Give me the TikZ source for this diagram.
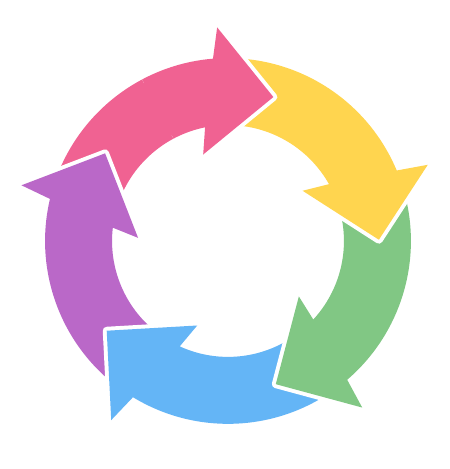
\documentclass[tikz,border=0pt]{standalone}
\definecolor{pinkarrow}{HTML}{F06292}
\definecolor{yellowarrow}{HTML}{FFD54F}
\definecolor{greenarrow}{HTML}{81C784}
\definecolor{bluearrow}{HTML}{64B5F6}
\definecolor{purplearrow}{HTML}{BA68C8}
% one bent arrow of the cycle, tip at angle #1
\newcommand{\cyclearrow}[2]{%
  \begin{scope}[rotate=#1]
    \fill[#2, preaction={draw=white, line width=4.5pt, line join=round}]
      (87:183) arc (87:22.2:183) -- (20.4:214) -- (0:151) -- (33.5:90)
      -- (28.9:116) arc (28.9:87:116) -- cycle;
  \end{scope}}
\begin{document}
\begin{tikzpicture}[scale=0.02]
\useasboundingbox (-228,-228) rectangle (222,241);
\coordinate (O) at (0,0);
\foreach \t/\c in {72.5/pinkarrow, 144.5/purplearrow, -143.5/bluearrow, -71.5/greenarrow, 0.5/yellowarrow}
  \cyclearrow{\t}{\c};
% pink head again, on top of the yellow tail
\begin{scope}
  \clip (O) -- (55:260) arc (55:118:260) -- cycle;
  \cyclearrow{72.5}{pinkarrow}
\end{scope}
\end{tikzpicture}
\end{document}
